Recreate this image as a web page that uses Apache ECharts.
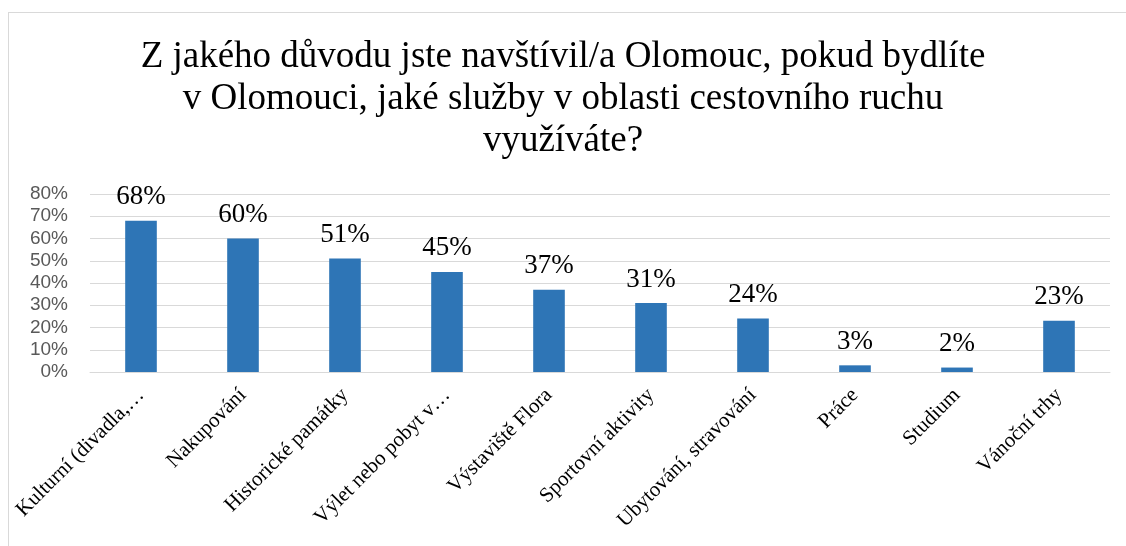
<!DOCTYPE html>
<html>
<head>
<meta charset="utf-8">
<script src="https://cdn.jsdelivr.net/npm/echarts@6/dist/echarts.min.js"></script>
<style>
    html, body { margin: 0; padding: 0; background: #fff; }
    #frame { position: absolute; left: 8px; top: 12px; width: 1130px; height: 545px; border: 1px solid #d9d9d9; }
    #main { position: absolute; left: 0; top: 0; width: 1126px; height: 546px; }
</style>
</head>
<body>
<div id="frame"></div>
<div id="main"></div>
<script>
    // data
    var categories = ['Kulturní (divadla,…', 'Nakupování', 'Historické památky', 'Výlet nebo pobyt v…', 'Výstaviště Flora',
        'Sportovní aktivity', 'Ubytování, stravování', 'Práce', 'Studium', 'Vánoční trhy'];
    var values = [68, 60, 51, 45, 37, 31, 24, 3, 2, 23];
    var titleText = 'Z jakého důvodu jste navštívil/a Olomouc, pokud bydlíte\nv Olomouci, jaké služby v oblasti cestovního ruchu\nvyužíváte?';

    var myChart = echarts.init(document.getElementById('main'));
    var option = {
        animation: false,
        title: {
            text: titleText,
            left: 'center',
            top: 31,
            textStyle: {
                fontFamily: 'Liberation Serif',
                fontSize: 37,
                fontWeight: 'normal',
                color: '#000',
                lineHeight: 42
            }
        },
        grid: {
            left: 90,
            right: 16,
            top: 194,
            bottom: 174
        },
        xAxis: {
            type: 'category',
            data: categories,
            axisTick: { show: false },
            axisLine: { lineStyle: { color: '#d9d9d9', width: 1 } },
            axisLabel: {
                rotate: 45,
                interval: 0,
                margin: 20,
                fontFamily: 'Liberation Serif',
                fontSize: 21,
                color: '#000'
            }
        },
        yAxis: {
            type: 'value',
            min: 0,
            max: 80,
            interval: 10,
            axisLine: { show: false },
            axisTick: { show: false },
            splitLine: { lineStyle: { color: '#d9d9d9', width: 1 } },
            axisLabel: {
                formatter: '{value}%',
                margin: 22,
                fontFamily: 'Liberation Sans',
                fontSize: 19,
                color: '#595959'
            }
        },
        series: [{
            type: 'bar',
            data: values,
            barWidth: '31%',
            itemStyle: { color: '#2e75b6' },
            label: {
                show: true,
                position: 'top',
                distance: 10,
                formatter: '{c}%',
                fontFamily: 'Liberation Serif',
                fontSize: 27,
                color: '#000'
            }
        }]
    };
    myChart.setOption(option);
</script>
</body>
</html>
